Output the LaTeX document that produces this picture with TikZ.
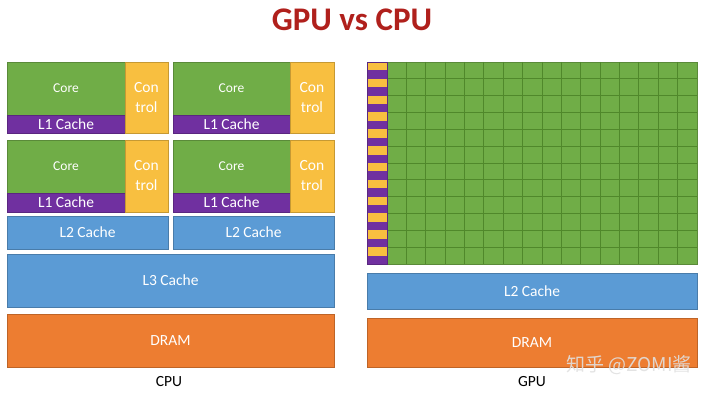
\documentclass[tikz,border=0pt]{standalone}
\usepackage{fontspec}
\setmainfont{Carlito}
\newfontfamily\cjk{Noto Sans CJK SC}
\definecolor{cgreen}{HTML}{70AD47}
\definecolor{cpurple}{HTML}{7030A0}
\definecolor{cyellow}{HTML}{F8BF40}
\definecolor{cblue}{HTML}{5B9BD5}
\definecolor{corange}{HTML}{ED7D31}
\definecolor{ctitle}{HTML}{B0201C}
\definecolor{cgrid}{HTML}{50882B}
\begin{document}
\begin{tikzpicture}[x=1pt,y=-1pt,
  box/.style={draw=#1!80!black, fill=#1, line width=0.5pt, inner sep=0pt, outer sep=0pt,
    anchor=north west, text=white, font=\fontsize{15.5}{20}\selectfont, align=center},
  corelbl/.style={font=\fontsize{13.5}{15}\selectfont},
  caption/.style={font=\fontsize{15.5}{18}\selectfont, text=black},
  gridline/.style={draw=cgrid, line width=0.8pt}]
\useasboundingbox (0,0) rectangle (720,395);

% title
\node[font=\bfseries\fontsize{33}{36}\selectfont, text=ctitle] (title) at (352,20) {GPU vs CPU};

% ---- CPU ----
% block A
\node[box=cgreen, corelbl, minimum width=118, minimum height=53] (coreA) at (7,62) {Core};
\node[box=cpurple, minimum width=118, minimum height=18] (l1A) at (7,115) {L1 Cache};
\node[box=cyellow, minimum width=43, minimum height=71] (ctrlA) at (125,62) {Con\\trol};
% block B
\node[box=cgreen, corelbl, minimum width=117, minimum height=53] (coreB) at (173,62) {Core};
\node[box=cpurple, minimum width=117, minimum height=18] (l1B) at (173,115) {L1 Cache};
\node[box=cyellow, minimum width=44, minimum height=71] (ctrlB) at (290,62) {Con\\trol};
% block C
\node[box=cgreen, corelbl, minimum width=118, minimum height=53] (coreC) at (7,140) {Core};
\node[box=cpurple, minimum width=118, minimum height=19] (l1C) at (7,193) {L1 Cache};
\node[box=cyellow, minimum width=43, minimum height=72] (ctrlC) at (125,140) {Con\\trol};
% block D
\node[box=cgreen, corelbl, minimum width=117, minimum height=53] (coreD) at (173,140) {Core};
\node[box=cpurple, minimum width=117, minimum height=19] (l1D) at (173,193) {L1 Cache};
\node[box=cyellow, minimum width=44, minimum height=72] (ctrlD) at (290,140) {Con\\trol};
% caches and DRAM
\node[box=cblue, minimum width=161, minimum height=33] (l2A) at (7,216) {L2 Cache};
\node[box=cblue, minimum width=161, minimum height=33] (l2B) at (173,216) {L2 Cache};
\node[box=cblue, minimum width=327, minimum height=53] (l3) at (7,254) {L3 Cache};
\node[box=corange, minimum width=327, minimum height=53] (dramC) at (7,314) {DRAM};
\node[caption] (cpulbl) at (169,382) {CPU};

% ---- GPU ----
\node[box=cgreen, minimum width=310, minimum height=202] (garray) at (387,62) {};
\foreach \i in {1,...,15}
  \draw[gridline] ([xshift=\i*19.375pt]garray.north west) -- ([xshift=\i*19.375pt]garray.south west);
\foreach \j in {1,...,11}
  \draw[gridline] ([yshift=-\j*16.8333pt]garray.north west) -- ([yshift=-\j*16.8333pt]garray.north east);
\node[box=cyellow, minimum width=20, minimum height=202] (stripe) at (367,62) {};
\foreach \j in {0,...,11}
  \fill[cpurple] (367,{62+\j*16.8333+8.4167}) rectangle (387,{62+(\j+1)*16.8333});
\draw[cpurple!80!black, line width=0.5pt] (stripe.north west) rectangle (stripe.south east);
\node[box=cblue, minimum width=330, minimum height=36] (l2G) at (367,273) {L2 Cache};
\node[box=corange, minimum width=330, minimum height=49] (dramG) at (367,318) {DRAM};
\node[caption] (gpulbl) at (532,382) {GPU};

% watermark
\node[font=\cjk\fontsize{19}{21}\selectfont, text=white!88!black, opacity=0.9] (wm) at (629,365) {知乎 @ZOMI酱};
\end{tikzpicture}
\end{document}
